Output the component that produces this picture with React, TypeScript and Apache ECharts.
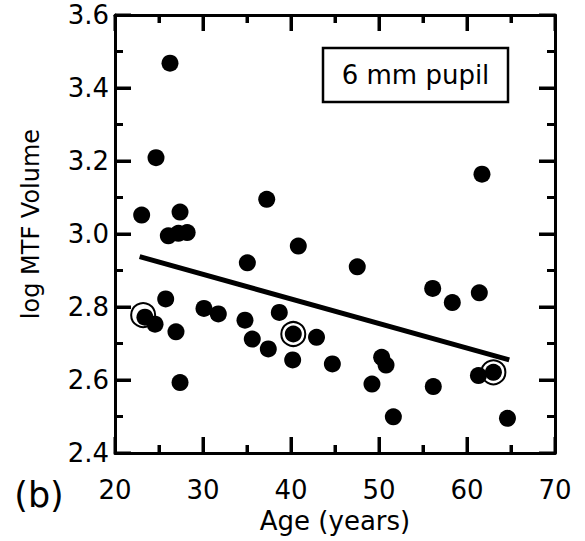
import React, { useEffect, useRef } from "react";
import * as echarts from "echarts";

const ageTicks = [20, 30, 40, 50, 60, 70];
const ageMinorTicks = [25, 35, 45, 55, 65];
const volumeTicks = [2.4, 2.6, 2.8, 3.0, 3.2, 3.4, 3.6];
const volumeMinorTicks = [2.5, 2.7, 2.9, 3.1, 3.3, 3.5];

// filled subjects: [age, log MTF volume]
const subjects: [number, number][] = [
  [26.25, 3.468], [24.66, 3.209], [23.03, 3.052], [27.39, 3.06], [26.06, 2.995],
  [27.2, 3.002], [28.2, 3.004], [37.24, 3.095], [40.83, 2.967], [35.04, 2.921],
  [61.7, 3.164], [47.53, 2.91], [23.4, 2.772], [24.55, 2.753], [25.76, 2.822],
  [26.93, 2.732], [27.39, 2.593], [30.11, 2.796], [31.74, 2.781], [34.77, 2.764],
  [35.6, 2.712], [37.42, 2.685], [38.67, 2.785], [40.19, 2.655], [40.26, 2.726],
  [56.1, 2.851], [58.33, 2.812], [61.4, 2.839], [42.9, 2.717], [44.7, 2.644],
  [50.3, 2.662], [50.8, 2.641], [49.2, 2.589], [51.63, 2.499], [56.17, 2.582],
  [61.3, 2.612], [64.6, 2.495],
];

// highlighted (ringed) subjects
const ringed: [number, number][] = [
  [23.2, 2.778], [40.26, 2.726], [63.0, 2.621],
];
const ringedDots: [number, number][] = [[63.0, 2.621]];

// regression line end points
const fitLine: [number, number][] = [[22.8, 2.938], [64.8, 2.655]];

const FONT = "DejaVu Sans";
const MAJOR = 16;
const MINOR = 8;

function mk(extra: any) {
  return {
    type: "value",
    axisLine: { show: true, lineStyle: { color: "#000", width: 3 } },
    axisTick: { show: true, inside: true, length: MAJOR, lineStyle: { color: "#000", width: 3 } },
    minorTick: { show: true, splitNumber: 2, length: MINOR, lineStyle: { color: "#000", width: 3 } },
    splitLine: { show: false },
    ...extra,
  };
}

export default function App() {
  const ref = useRef<HTMLDivElement>(null);
  useEffect(() => {
    if (!ref.current) return;
    const chart = echarts.init(ref.current, undefined, { renderer: "svg" });
    const xMin = ageTicks[0];
    const xMax = ageTicks[ageTicks.length - 1];
    const yMin = volumeTicks[0];
    const yMax = volumeTicks[volumeTicks.length - 1];
    const xr = { min: xMin, max: xMax, interval: 10 };
    const yr = { min: yMin, max: yMax, interval: 0.2 };

    // tick marks table: [x, y, isMajor]
    const xTickData = ageTicks
      .map((v) => [v, yMin, 1])
      .concat(ageMinorTicks.map((v) => [v, yMin, 0]));
    const yTickData = volumeTicks
      .map((v) => [xMin, v, 1])
      .concat(volumeMinorTicks.map((v) => [xMin, v, 0]));
    const tickStyle = { stroke: "#000", lineWidth: 3 };

    chart.setOption({
      animation: false,
      backgroundColor: "#fff",
      grid: { left: 115, right: 30, top: 15, bottom: 88, outerBoundsMode: "none" },
      xAxis: [
        mk({
          ...xr,
          position: "bottom",
          axisLabel: { show: true, color: "#000", fontFamily: FONT, fontSize: 26, margin: 24 },
          name: "Age (years)",
          nameLocation: "middle",
          nameGap: 52,
          nameTextStyle: { color: "#000", fontFamily: FONT, fontSize: 26 },
        }),
        mk({ ...xr, position: "top", axisLabel: { show: false } }),
      ],
      yAxis: [
        mk({
          ...yr,
          position: "left",
          axisLabel: {
            show: true,
            color: "#000",
            fontFamily: FONT,
            fontSize: 26,
            margin: 6,
            padding: [8, 0, 0, 0],
            formatter: (v: number) => v.toFixed(1),
          },
        }),
        mk({ ...yr, position: "right", axisLabel: { show: false } }),
      ],
      graphic: [
        {
          type: "text",
          x: 31,
          y: 224,
          rotation: Math.PI / 2,
          style: {
            text: "log MTF Volume",
            font: `24px "${FONT}"`,
            fill: "#000",
            align: "center",
            verticalAlign: "middle",
          },
        },
        {
          type: "text",
          x: 39,
          y: 495,
          style: {
            text: "(b)",
            font: `35px "${FONT}"`,
            fill: "#000",
            align: "center",
            verticalAlign: "middle",
          },
        },
        {
          type: "rect",
          shape: { x: 323, y: 48, width: 185, height: 54 },
          style: { fill: "#fff", stroke: "#000", lineWidth: 2.5 },
          z: 10,
        },
        {
          type: "text",
          x: 415.5,
          y: 75,
          z: 11,
          style: {
            text: "6 mm pupil",
            font: `26px "${FONT}"`,
            fill: "#000",
            align: "center",
            verticalAlign: "middle",
          },
        },
      ],
      series: [
        {
          type: "custom",
          silent: true,
          z: 1,
          data: xTickData,
          renderItem: (_params: any, api: any) => {
            const v = api.value(0);
            const len = Number(api.value(2)) > 0 ? MAJOR : MINOR;
            const b = api.coord([v, yMin]);
            const t = api.coord([v, yMax]);
            return {
              type: "group",
              children: [
                { type: "line", shape: { x1: b[0], y1: b[1], x2: b[0], y2: b[1] - len }, style: tickStyle },
                { type: "line", shape: { x1: t[0], y1: t[1], x2: t[0], y2: t[1] + len }, style: tickStyle },
              ],
            };
          },
        },
        {
          type: "custom",
          silent: true,
          z: 1,
          data: yTickData,
          renderItem: (_params: any, api: any) => {
            const v = api.value(1);
            const len = Number(api.value(2)) > 0 ? MAJOR : MINOR;
            const l = api.coord([xMin, v]);
            const r = api.coord([xMax, v]);
            return {
              type: "group",
              children: [
                { type: "line", shape: { x1: l[0], y1: l[1], x2: l[0] + len, y2: l[1] }, style: tickStyle },
                { type: "line", shape: { x1: r[0], y1: r[1], x2: r[0] - len, y2: r[1] }, style: tickStyle },
              ],
            };
          },
        },
        {
          type: "line",
          data: fitLine,
          symbol: "none",
          lineStyle: { color: "#000", width: 5 },
          z: 2,
        },
        {
          type: "scatter",
          data: ringed,
          symbol: "circle",
          symbolSize: 24,
          itemStyle: { color: "#fff", borderColor: "#000", borderWidth: 2, opacity: 1 },
          z: 3,
        },
        {
          type: "scatter",
          data: subjects.concat(ringedDots),
          symbol: "circle",
          symbolSize: 17,
          itemStyle: { color: "#000", opacity: 1 },
          z: 4,
        },
      ],
    });
    return () => chart.dispose();
  }, []);
  return (
    <div
      ref={ref}
      style={{ position: "absolute", left: 0, top: 0, width: 585, height: 541 }}
    />
  );
}
